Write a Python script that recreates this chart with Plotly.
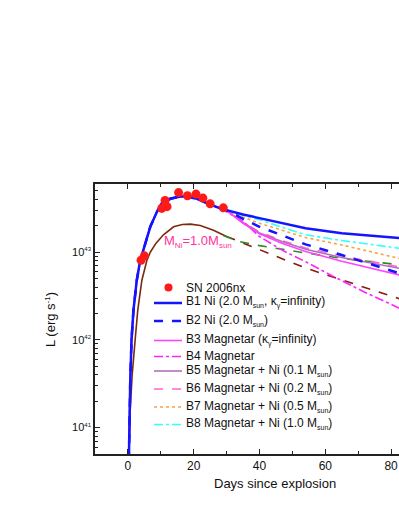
import plotly.graph_objects as go

# Luminosities are in units of 1e42 erg/s
SCALE = 1e42

# SN 2006nx observations
obs_days = [4.0, 5.0, 10.3, 11.3, 11.9, 15.4, 18.1, 20.7, 22.8, 25.0, 29.0]
obs_lum = [8.1, 9.1, 31.6, 38.9, 33.1, 47.9, 44.0, 46.0, 41.4, 35.6, 32.1]

# Rising part shared by all B models
rise_days = [0.0, 0.4, 0.7, 1.1, 1.7, 2.7, 3.7, 5.3, 6.8, 8.8, 10.3, 12.9, 15.9, 18.0, 21.0, 24.0, 28.0]
rise_lum = [0.01, 0.1, 0.32, 1.0, 2.2, 4.8, 7.9, 12.6, 19.5, 28.8, 36.3, 40.7, 43.2, 43.2, 40.7, 36.3, 31.6]

# Declining tails of the models
tail_days = [30, 35, 40, 47, 54, 65, 82.5]
b1_tail = [30.2, 26.9, 24.5, 21.4, 18.8, 16.5, 14.5]
b2_tail = [30.0, 24.0, 19.5, 15.5, 12.3, 9.3, 5.75]
b3_tail = [29.8, 21.4, 16.2, 12.6, 10.2, 7.9, 5.5]
b5_tail = [29.8, 21.9, 16.6, 13.2, 10.8, 8.7, 6.56]
b6_tail = [29.8, 21.9, 17.0, 13.5, 11.2, 9.1, 6.8]
b7_tail = [30.0, 25.1, 21.4, 17.8, 14.7, 12.1, 8.5]
b8_tail = [30.2, 26.3, 23.4, 19.1, 15.8, 13.6, 11.1]
b4_days = [30, 35, 40, 47, 54, 62, 72, 82.5]
b4_tail = [29.0, 22.4, 15.1, 10.5, 7.8, 5.4, 3.5, 2.3]

# Ni-only model with M_Ni = 1.0 Msun
ni_days = [0.0, 0.3, 0.7, 1.3, 2.2, 3.0, 4.25, 5.8, 6.8, 8.5, 10.8, 13.9, 16.5, 19.0, 22.0, 26.0, 30.0]
ni_lum = [0.005, 0.049, 0.158, 0.40, 1.0, 2.19, 4.79, 8.13, 10.0, 12.6, 15.8, 19.5, 20.7, 20.9, 20.2, 17.8, 15.1]
ni_tail_days = [30, 40, 54, 82.5]
ni_tail_lum = [15.1, 10.7, 6.6, 2.95]
ni_trap_days = [29, 34, 40, 47, 54, 65, 82.5]
ni_trap_lum = [15.5, 13.2, 11.9, 10.7, 9.8, 8.5, 7.2]

FONT = "Liberation Sans, Arial, sans-serif"
SUN = "<sub><span style='font-size:7px'>sun</span></sub>"
GAM = "<sub><span style='font-size:7px'>γ</span></sub>"

# plot area in page pixels
PX_L, PX_R, PX_T, PX_B = 95, 399, 184, 454


def px(x):
    return (x - PX_L) / (PX_R - PX_L)


def py(y):
    return (PX_B - y) / (PX_B - PX_T)


def model_curve(tail_x, tail_y):
    x = rise_days + list(tail_x)
    y = [v * SCALE for v in rise_lum + list(tail_y)]
    return x, y


def create_lightcurve_plot():
    fig = go.Figure()

    models = [
        ("B1 Ni (2.0 M" + SUN + ", κ" + GAM + "=infinity)", tail_days, b1_tail, "#1414FF", "solid", 2.5),
        ("B2 Ni (2.0 M" + SUN + ")", tail_days, b2_tail, "#1414FF", "dash", 2.5),
        ("B3 Magnetar (κ" + GAM + "=infinity)", tail_days, b3_tail, "#FF44FF", "solid", 1.6),
        ("B4 Magnetar", b4_days, b4_tail, "#FF22FF", "dashdot", 1.6),
        ("B5 Magnetar + Ni (0.1 M" + SUN + ")", tail_days, b5_tail, "#B070B8", "solid", 1.6),
        ("B6 Magnetar + Ni (0.2 M" + SUN + ")", tail_days, b6_tail, "#FF66CC", "dash", 1.6),
        ("B7 Magnetar + Ni (0.5 M" + SUN + ")", tail_days, b7_tail, "#FFA040", "dot", 1.6),
        ("B8 Magnetar + Ni (1.0 M" + SUN + ")", tail_days, b8_tail, "#33FFFF", "dashdot", 1.6),
    ]

    # Ni-only comparison model
    fig.add_trace(go.Scatter(
        x=ni_days, y=[v * SCALE for v in ni_lum], mode="lines",
        line=dict(color="#7A2A10", width=1.6),
    ))
    fig.add_trace(go.Scatter(
        x=ni_tail_days, y=[v * SCALE for v in ni_tail_lum], mode="lines",
        line=dict(color="#8B1A10", width=1.6, dash="dash"),
    ))
    fig.add_trace(go.Scatter(
        x=ni_trap_days, y=[v * SCALE for v in ni_trap_lum], mode="lines",
        line=dict(color="#2E8B22", width=1.6, dash="dash"),
    ))

    for name, tx, ty, color, dash, width in reversed(models):
        x, y = model_curve(tx, ty)
        fig.add_trace(go.Scatter(
            x=x, y=y, mode="lines", name=name,
            line=dict(color=color, dash=dash, width=width),
        ))

    fig.add_trace(go.Scatter(
        x=obs_days, y=[v * SCALE for v in obs_lum],
        mode="markers", name="SN 2006nx",
        marker=dict(color="#FF1A1A", size=9),
    ))

    # hand-made legend to match the compact original
    rows_y = [287.5, 303, 321, 340.5, 356.5, 371, 389, 407, 424.5]
    fig.add_shape(type="circle", xref="paper", yref="paper",
                  x0=px(164.5), x1=px(172.5), y0=py(rows_y[0] + 4), y1=py(rows_y[0] - 4),
                  fillcolor="#FF1A1A", line=dict(width=0))
    fig.add_annotation(text="SN 2006nx", xref="paper", yref="paper",
                       x=px(184), y=py(rows_y[0]), xanchor="left", yanchor="middle",
                       showarrow=False, font=dict(family=FONT, size=12, color="#111111"))
    for (name, tx, ty, color, dash, width), ry in zip(models, rows_y[1:]):
        fig.add_shape(type="line", xref="paper", yref="paper",
                      x0=px(154), x1=px(182), y0=py(ry), y1=py(ry),
                      line=dict(color=color, dash=dash, width=width))
        fig.add_annotation(text=name, xref="paper", yref="paper",
                           x=px(184), y=py(ry - 1), xanchor="left", yanchor="middle",
                           showarrow=False, font=dict(family=FONT, size=12, color="#111111"))

    y_major = [1e41, 1e42, 1e43]
    y_minor = [m * 10.0 ** e for e in (40, 41, 42, 43) for m in range(2, 10)]

    fig.update_layout(
        width=399,
        height=516,
        plot_bgcolor="white",
        paper_bgcolor="white",
        font=dict(family=FONT, size=12, color="#111111"),
        margin=dict(l=PX_L, r=399 - PX_R, t=PX_T, b=516 - PX_B),
        showlegend=False,
        xaxis=dict(
            range=[-10, 82.4],
            showgrid=False, zeroline=False,
            showline=True, linecolor="#222222", linewidth=1.5,
            mirror="ticks",
            ticks="inside", ticklen=5, tickcolor="#222222", tickwidth=1.2,
            tickvals=[0, 20, 40, 60, 80],
            ticklabeloverflow="allow",
            tickfont=dict(family=FONT, size=12),
            minor=dict(tickvals=[-10, 10, 30, 50, 70], ticks="inside", ticklen=3,
                       tickcolor="#222222", showgrid=False),
        ),
        yaxis=dict(
            type="log",
            range=[40.699, 43.778],
            showgrid=False, zeroline=False,
            showline=True, linecolor="#222222", linewidth=1.5,
            ticks="inside", ticklen=5, tickcolor="#222222", tickwidth=1.2,
            tickvals=y_major,
            ticktext=["10<sup><span style='font-size:6px'>%d</span></sup>" % e for e in (41, 42, 43)],
            tickfont=dict(family=FONT, size=11),
            minor=dict(tickvals=y_minor, ticks="inside", ticklen=3,
                       tickcolor="#222222", showgrid=False),
        ),
    )

    fig.add_annotation(
        text="Days since explosion", xref="paper", yref="paper",
        x=px(275), y=py(483), showarrow=False,
        font=dict(family=FONT, size=13), xanchor="center", yanchor="middle",
    )
    fig.add_annotation(
        text="L (erg s<sup><span style='font-size:8px'>-1</span></sup>)", xref="paper", yref="paper",
        x=px(50), y=py(320), showarrow=False, textangle=-90,
        font=dict(family=FONT, size=13), xanchor="center", yanchor="middle",
    )
    fig.add_annotation(
        text="M<sub><span style='font-size:8px'>Ni</span></sub>=1.0M<sub><span style='font-size:8px'>sun</span></sub>",
        xref="paper", yref="paper",
        x=px(162), y=py(241), showarrow=False,
        font=dict(family=FONT, size=13, color="#FF3399"), xanchor="left", yanchor="middle",
    )

    return fig


if __name__ == "__main__":
    fig = create_lightcurve_plot()
    # drop the default page margin so the 399x516 figure fills the window exactly
    fig.write_html(
        "out.html",
        config={"displayModeBar": False},
        post_script="document.body.style.margin='0';"
                    "document.documentElement.style.overflow='hidden';",
    )
